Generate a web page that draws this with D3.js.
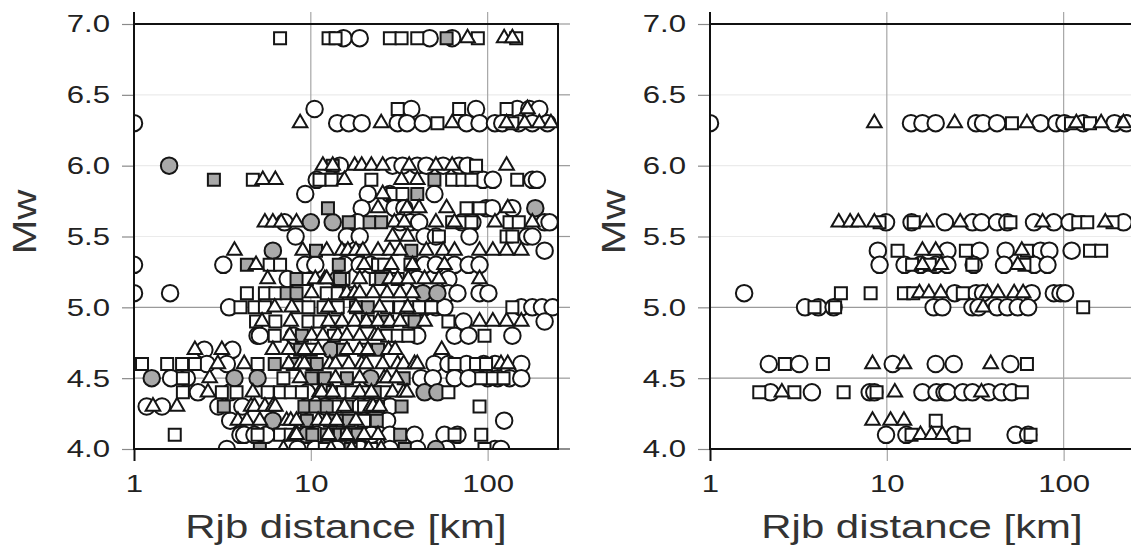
<!DOCTYPE html>
<html>
<head>
<meta charset="utf-8">
<script src="https://cdn.jsdelivr.net/npm/d3@7"></script>
<style>
  body { margin: 0; background: #fff; }
  svg text { font-family: "Liberation Sans", Arial, Helvetica, sans-serif; fill: #222; }
</style>
</head>
<body>
<div id="chart"></div>
<script>
// ticks
var mwTicks = [4.0, 4.5, 5.0, 5.5, 6.0, 6.5, 7.0];
var rjbTicks = [1, 10, 100];

// rows are [Mw, [Rjb km, ...]]
var leftCircles = [
  [6.9, [15.3, 18.9, 47, 63]],
  [6.4, [10.5, 37, 86, 147, 172, 196]],
  [6.3, [1.0, 14.1, 16.4, 19.4, 31, 35, 43, 76, 90, 110, 121, 150, 179, 218]],
  [6.0, [14.6, 29, 33, 40, 45, 56, 69, 77]],
  [5.9, [10.8, 94, 107, 179, 190]],
  [5.8, [9.3, 21, 28, 50]],
  [5.7, [19.4, 29.7, 33.8, 98, 106, 138]],
  [5.6, [7.1, 18.4, 32, 36.6, 41, 71.5, 82, 210, 224]],
  [5.5, [8.2, 16, 18.9, 44, 51, 79, 168, 179]],
  [5.4, [210]],
  [5.3, [1.0, 3.2, 9.3, 10.6, 15.5, 18.9, 21.8, 44, 51, 65, 78, 90]],
  [5.2, [7.4, 40, 60]],
  [5.1, [1.0, 1.6, 60, 67.5, 90, 101]],
  [5.0, [3.45, 44, 51, 57, 155, 179, 203, 233]],
  [4.9, [73, 210]],
  [4.8, [5.0, 5.15, 8, 40, 65, 78, 138]],
  [4.7, [2.5, 3.6]],
  [4.6, [2.58, 3.35, 50, 60, 76, 95, 110, 155]],
  [4.5, [1.62, 1.99, 42, 49, 65, 78, 100, 114, 133, 155]],
  [4.4, [2.3, 3.5, 9.5, 12]],
  [4.3, [1.18, 1.44, 3.0, 4.1, 12, 19, 28]],
  [4.2, [3.5, 9, 20, 27, 124]],
  [4.1, [4.0, 4.2, 4.8, 5.6, 10.8, 19, 22, 28, 38.6, 57, 67.5]],
  [4.0, [3.35, 8.4, 10.6, 14, 19, 28, 40, 58.6, 110, 119]]
];
var leftGrayCircles = [
  [6.0, [1.58]], [5.7, [186]], [5.6, [10, 13.3]], [5.4, [6.1]], [5.2, [14.2]],
  [5.1, [43, 52]], [4.7, [13]], [4.5, [1.26, 3.7, 5.0, 21.8]], [4.4, [44, 52]],
  [4.2, [6.1]], [4.1, [9.5]], [4.0, [51]]
];
var leftSquares = [
  [6.9, [6.7, 12.6, 13.8, 28, 32.6, 40, 88, 145]],
  [6.4, [31, 69, 128]],
  [6.3, [52, 138]],
  [6.0, [86]],
  [5.9, [4.7, 11.2, 13.1, 22, 63, 72, 81, 147]],
  [5.8, [29, 33]],
  [5.7, [76, 90]],
  [5.6, [63, 72, 81, 133, 150]],
  [5.5, [53, 128, 138]],
  [5.3, [5.85, 6.7, 24, 26, 36.6]],
  [5.2, [9.5, 15.3, 23.3, 31]],
  [5.1, [4.35, 5.5, 6.3, 12.3, 14.2, 16.4]],
  [5.0, [4.0, 4.8, 5.5, 8.4, 9.7, 11.8, 14.2, 27, 32, 36.6, 41, 48, 138]],
  [4.9, [4.9, 6.3, 9.7, 11.2, 14, 21, 36, 60]],
  [4.8, [6.25, 13.5, 27, 31, 35.6, 96]],
  [4.7, [10, 20]],
  [4.6, [1.11, 1.54, 1.87, 2.21, 5.0, 65, 86, 98]],
  [4.5, [1.89, 7.0, 92, 107, 123]],
  [4.4, [1.89, 3.14, 3.8, 5.7, 6.7, 7.7, 8.9, 13.3, 15.2, 17, 20, 26, 60]],
  [4.3, [14, 20, 90]],
  [4.2, [20]],
  [4.1, [1.7, 5.0, 6.7, 7.7, 65, 92]],
  [4.0, [12, 22, 96]]
];
var leftGraySquares = [
  [6.9, [58.6]], [6.0, [13.3]], [5.9, [2.83, 50]], [5.8, [40]], [5.7, [12.5]],
  [5.6, [16.4, 21.5, 25]], [5.4, [10.7, 37]], [5.3, [4.35, 14.4]], [5.2, [8.3, 14.6, 25]],
  [5.1, [7.3, 8.3]], [5.0, [18, 21]], [4.9, [27, 38.6]], [4.8, [8.9]],
  [4.7, [8.7, 15.2, 24]], [4.6, [6.25, 7.9, 10.2, 10.8]], [4.5, [10.1, 12, 16, 33.5]],
  [4.4, [23]], [4.3, [3.22, 9.2, 10.6, 12.3, 16, 24, 32.6]],
  [4.2, [9.5, 12.8, 15.2, 16.4, 23.6]], [4.1, [10.2, 12.3, 14.6, 16, 18.4, 32]],
  [4.0, [5.15, 16.8, 34]]
];
var leftTriangles = [
  [6.9, [77, 124, 138]],
  [6.4, [168]],
  [6.3, [8.7, 25, 63, 128, 162, 196, 228]],
  [6.0, [11.7, 13.3, 17.7, 19.4, 22, 25.5, 36, 51, 63, 128]],
  [5.9, [5.35, 6.3, 15.5, 32.6, 40]],
  [5.8, [25.5]],
  [5.7, [24, 35, 41, 58.6, 130]],
  [5.6, [5.5, 6.1, 6.8, 8.3, 29.7, 33.8, 51, 65, 110, 179]],
  [5.5, [29, 35.3]],
  [5.4, [3.7, 9.0, 12.3, 15, 16.2, 18, 19.7, 24, 28, 32, 45, 56, 65, 90, 107, 128, 155]],
  [5.3, [4.9, 20, 28.5, 37.6, 57]],
  [5.2, [5.7, 10.6, 12, 12.3, 18.9, 28, 31, 35.6, 44, 53, 90]],
  [5.1, [10.1, 16, 17.7, 18.9, 22.5, 27, 32, 37.6]],
  [5.0, [6.25, 7.8, 12.6, 18, 24.5, 35.3]],
  [4.9, [5.3, 7.7, 12.6, 15, 17.7, 20.6, 24, 28, 32, 44, 90, 107, 128, 155]],
  [4.8, [7.6, 10.1, 11.7, 14.2, 16, 18.9, 23, 24]],
  [4.7, [2.21, 3.14, 6.1, 7.5, 9.2, 11, 16, 18.9, 21, 27.5, 30, 55]],
  [4.6, [2.98, 4.2, 7.5, 8.7, 9.2, 12.8, 13.8, 16.4, 19.4, 20.6, 25.5, 31, 33.5, 38.6, 40, 119, 130]],
  [4.5, [2.68, 8.7, 13.8, 18.9, 26, 27, 30.5]],
  [4.4, [2.62, 4.7, 11.2, 11.5, 13.3, 18.9, 22, 29, 33.5, 35]],
  [4.3, [1.28, 1.75, 4.6, 4.8, 5.5, 6.1, 6.3, 15.5, 21.8, 22.5, 24.5]],
  [4.2, [3.87, 4.35, 5.15, 7.3, 7.7, 8.3, 11, 12.3, 14, 18]],
  [4.1, [8.1, 8.3, 12.6, 16, 20, 24]],
  [4.0, [7.0, 13, 17, 21.2, 25]]
];

var rightCircles = [
  [6.3, [1.0, 13.7, 15.9, 18.9, 32, 35, 42, 74, 91, 101, 129, 194, 226]],
  [5.6, [9.9, 13.8, 21.3, 30.5, 34.3, 42, 48, 68, 88, 108, 218]],
  [5.4, [8.9, 22, 33.5, 47, 74, 83, 111]],
  [5.3, [9.1, 12.6, 15.5, 18.9, 22, 31, 46, 68, 81]],
  [5.1, [1.56, 24.2, 32, 35, 66, 88, 96, 102]],
  [5.0, [3.45, 4.1, 5.0, 18.4, 20.6, 30.5, 33, 42, 48, 55, 63]],
  [4.6, [2.15, 3.2, 10.8, 18.9, 23.9, 50]],
  [4.4, [2.2, 3.77, 8.0, 8.5, 15.9, 19.1, 21.2, 22, 26.9, 30.5, 37.6, 44.6, 51]],
  [4.1, [9.9, 12.9, 24.2, 53.5, 63]]
];
var rightSquares = [
  [6.3, [51, 110, 141]],
  [5.6, [9.1, 14.2, 50, 121, 136, 189]],
  [5.4, [11.5, 28, 62, 141, 163]],
  [5.3, [13.9, 17.5, 30.5, 60]],
  [5.1, [5.5, 8.1, 12.5, 14.1, 26.9]],
  [5.0, [3.9, 5.1, 129]],
  [4.6, [2.65, 4.35, 62]],
  [4.4, [1.9, 3.0, 5.7, 8.75, 58]],
  [4.2, [18.9]],
  [4.1, [13.8, 27.2, 65]]
];
var rightTriangles = [
  [6.3, [8.5, 24.2, 62, 118, 163, 218]],
  [5.6, [5.35, 6.2, 6.9, 8.5, 16.8, 26, 76, 172]],
  [5.4, [15.9, 18.9, 58]],
  [5.3, [15.9, 20.2, 55]],
  [5.1, [15.3, 17.3, 20.2, 37, 42.5, 52.5, 59]],
  [5.0, [35]],
  [4.6, [8.3, 12.5, 38.7]],
  [4.4, [2.55, 11.1, 34.3]],
  [4.2, [8.3, 10.5, 12.5]],
  [4.1, [15.5, 17.9, 20.6]]
];

var width = 1131, height = 549,
    top0 = 24, pw = 424, ph = 425,
    SX = 1.27;   // text in the figure is drawn wide

var x = d3.scaleLog().domain([1, 250]).range([0, pw]);
var y = d3.scaleLinear().domain([4, 7]).range([ph, 0]);

var svg = d3.select("#chart").append("svg")
    .attr("width", width)
    .attr("height", height);

function rows(list) {
  var out = [];
  list.forEach(function(r) {
    r[1].forEach(function(d) { out.push({ mw: r[0], rjb: d }); });
  });
  return out;
}

var circle = { type: d3.symbolCircle, size: 214 },
    square = { type: d3.symbolSquare, size: 144 },
    triangle = { type: d3.symbolTriangle, size: 92 };

function drawPanel(left, layers, mwX, id) {
  var g = svg.append("g").attr("transform", "translate(" + left + "," + top0 + ")");

  g.append("clipPath").attr("id", id)
    .append("rect").attr("width", pw).attr("height", ph);

  // horizontal grid, faint in the upper part
  g.append("g").selectAll("line")
    .data(mwTicks.filter(function(d) { return d > 4 && d < 7; }))
    .enter().append("line")
    .attr("x1", 0).attr("x2", pw)
    .attr("y1", function(d) { return y(d); })
    .attr("y2", function(d) { return y(d); })
    .attr("stroke", function(d) { return d >= 5.5 ? "#ebebeb" : "#9a9a9a"; })
    .attr("stroke-width", 1.2);

  // stubs on the right side
  g.append("g").selectAll("line")
    .data(mwTicks)
    .enter().append("line")
    .attr("x1", pw).attr("x2", pw + 12)
    .attr("y1", function(d) { return y(d); })
    .attr("y2", function(d) { return y(d); })
    .attr("stroke", function(d) { return d === 4 ? "#444" : "#999"; })
    .attr("stroke-width", 1.2);

  // vertical grid
  g.append("g").selectAll("line")
    .data(rjbTicks.slice(1))
    .enter().append("line")
    .attr("x1", function(d) { return x(d); })
    .attr("x2", function(d) { return x(d); })
    .attr("y1", -12).attr("y2", ph)
    .attr("stroke", "#a6a6a6")
    .attr("stroke-width", 1.2);

  // y axis
  var ya = g.append("g")
    .call(d3.axisLeft(y).tickValues(mwTicks).tickFormat(d3.format(".1f")).tickSize(12).tickPadding(12));
  ya.select(".domain").remove();
  ya.selectAll("line").attr("stroke", "#8a8a8a").attr("stroke-width", 1.2);
  ya.selectAll("text")
    .attr("font-size", 24.5)
    .attr("x", -24 / SX)
    .attr("transform", "scale(" + SX + ",1)");

  // x axis
  var xa = g.append("g")
    .attr("transform", "translate(0," + ph + ")")
    .call(d3.axisBottom(x).tickValues(rjbTicks).tickFormat(d3.format("d")).tickSize(12).tickPadding(14));
  xa.select(".domain").remove();
  xa.selectAll("line")
    .attr("stroke", function(d) { return d === 1 ? "#111" : "#a6a6a6"; })
    .attr("stroke-width", function(d) { return d === 1 ? 2 : 1.2; });
  xa.selectAll("text")
    .attr("font-size", 24.5)
    .attr("transform", "scale(" + SX + ",1)");

  // markers
  var plot = g.append("g").attr("clip-path", "url(#" + id + ")");
  layers.forEach(function(layer) {
    plot.append("g").selectAll("path")
      .data(rows(layer.data))
      .enter().append("path")
      .attr("transform", function(d) { return "translate(" + x(d.rjb) + "," + y(d.mw) + ")"; })
      .attr("d", d3.symbol().type(layer.shape.type).size(layer.shape.size))
      .attr("fill", layer.fill)
      .attr("stroke", "#151515")
      .attr("stroke-width", 2);
  });

  // frame
  g.append("rect")
    .attr("width", pw).attr("height", ph)
    .attr("fill", "none")
    .attr("stroke", "#111")
    .attr("stroke-width", 2);
  g.append("line")
    .attr("x1", 0).attr("x2", 0).attr("y1", -12).attr("y2", 0)
    .attr("stroke", "#111").attr("stroke-width", 2);

  // titles
  g.append("text")
    .attr("transform", "translate(" + (pw / 2) + "," + (ph + 89) + ") scale(" + SX + ",1)")
    .attr("text-anchor", "middle")
    .attr("font-size", 33)
    .style("fill", "#333")
    .text("Rjb distance [km]");
  g.append("text")
    .attr("transform", "translate(" + mwX + ",198) rotate(-90) scale(" + SX + ",1)")
    .attr("text-anchor", "middle")
    .attr("font-size", 33)
    .style("fill", "#333")
    .text("Mw");
}

var grey = "#a9a9a9";

drawPanel(134, [
  { data: leftCircles, shape: circle, fill: "#fff" },
  { data: leftGrayCircles, shape: circle, fill: grey },
  { data: leftSquares, shape: square, fill: "#fff" },
  { data: leftGraySquares, shape: square, fill: grey },
  { data: leftTriangles, shape: triangle, fill: "#fff" }
], -98, "clipL");

drawPanel(710, [
  { data: rightCircles, shape: circle, fill: "#fff" },
  { data: rightSquares, shape: square, fill: "#fff" },
  { data: rightTriangles, shape: triangle, fill: "#fff" }
], -85, "clipR");
</script>
</body>
</html>
